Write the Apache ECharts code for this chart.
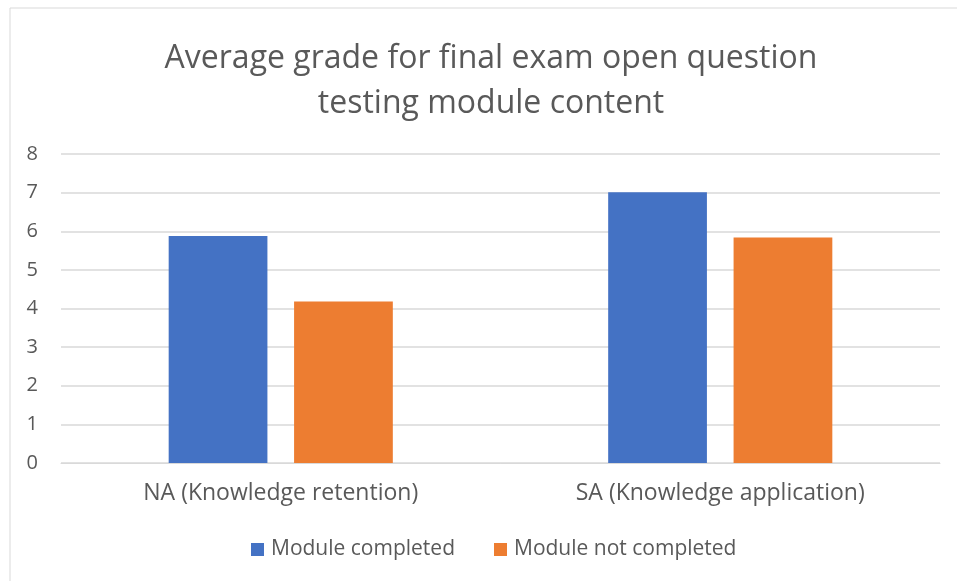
<!DOCTYPE html>
<html>
<head>
<meta charset="utf-8">
<script src="https://cdn.jsdelivr.net/npm/echarts@6/dist/echarts.min.js"></script>
<style>
  html, body { margin: 0; padding: 0; background: #fff; }
  #chart { width: 957px; height: 581px; }
</style>
</head>
<body>
<div id="chart"></div>
<script>
// categories and values
const categories = ['NA (Knowledge retention)', 'SA (Knowledge application)'];
const completed = [5.88, 7.01];
const notCompleted = [4.18, 5.84];
const seriesNames = ['Module completed', 'Module not completed'];

const chart = echarts.init(document.getElementById('chart'));
const font = '"Open Sans", sans-serif';

chart.setOption({
  animation: false,
  textStyle: { fontFamily: font },
  title: {
    text: 'Average grade for final exam open question\ntesting module content',
    left: 486,
    top: 31,
    textAlign: 'center',
    textStyle: { fontFamily: font, fontSize: 32, fontWeight: 'normal', color: '#595959', lineHeight: 45 }
  },
  graphic: [{
    type: 'rect',
    shape: { x: 10, y: 8, width: 1000, height: 600 },
    style: { fill: 'none', stroke: '#d9d9d9', lineWidth: 1 }
  }],
  legend: {
    data: seriesNames,
    bottom: 21,
    left: 251,
    padding: 0,
    itemWidth: 13,
    itemHeight: 13,
    itemGap: 39,
    icon: 'rect',
    textStyle: { fontFamily: font, fontSize: 21, color: '#595959', padding: [0, 0, 0, 2] }
  },
  grid: { left: 61, right: 17, top: 154, bottom: 118, containLabel: false },
  xAxis: {
    type: 'category',
    data: categories,
    axisLine: { lineStyle: { color: '#d9d9d9' } },
    axisTick: { show: false },
    axisLabel: { fontFamily: font, fontSize: 23, color: '#595959', margin: 19 }
  },
  yAxis: {
    type: 'value',
    min: 0,
    max: 8,
    interval: 1,
    axisLine: { show: false },
    axisTick: { show: false },
    splitLine: { lineStyle: { color: '#d9d9d9', width: 1.5 } },
    axisLabel: { fontFamily: font, fontSize: 20, color: '#595959', margin: 23 }
  },
  series: [
    {
      name: seriesNames[0],
      type: 'bar',
      data: completed,
      itemStyle: { color: '#4472C4' },
      barGap: '27%',
      barCategoryGap: '49%'
    },
    {
      name: seriesNames[1],
      type: 'bar',
      data: notCompleted,
      itemStyle: { color: '#ED7D31' }
    }
  ]
});
</script>
</body>
</html>
